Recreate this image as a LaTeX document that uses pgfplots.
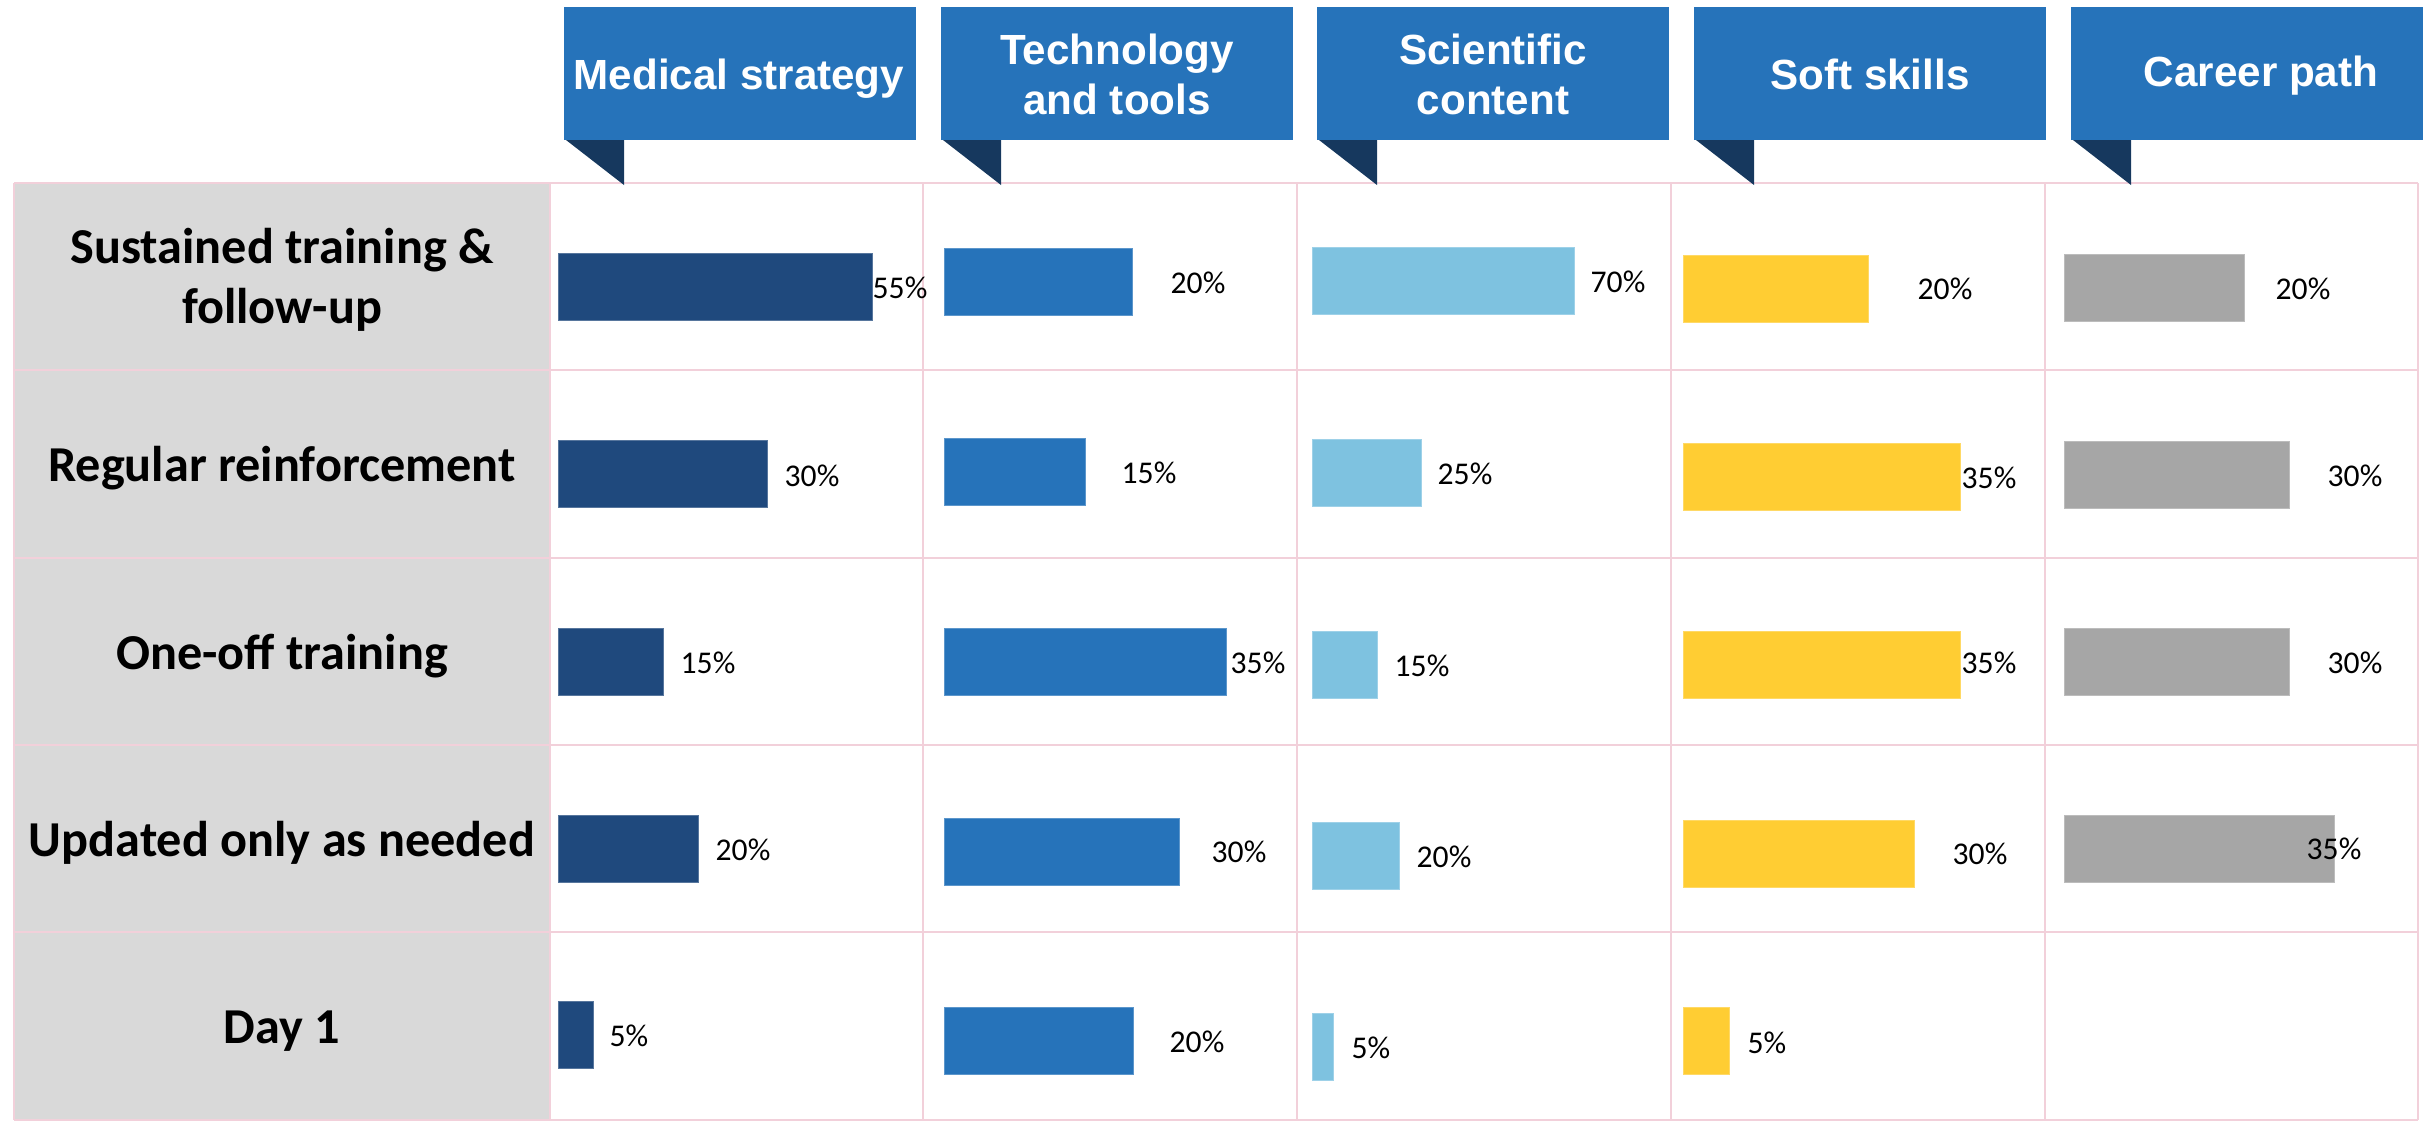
\documentclass[border=0pt]{standalone}
\usepackage{pgfplots}
\pgfplotsset{compat=1.18}
\usepackage{fontspec}
\setmainfont{Carlito}
\newfontfamily\headfont{Liberation Sans}
\definecolor{medblue}{RGB}{31,73,125}
\definecolor{techblue}{RGB}{38,115,186}
\definecolor{sciblue}{RGB}{126,194,224}
\definecolor{softyellow}{RGB}{255,205,51}
\definecolor{cargrey}{RGB}{166,166,166}
\definecolor{tridark}{RGB}{22,56,94}
\definecolor{gridpink}{RGB}{242,208,218}
\definecolor{labelbg}{RGB}{217,217,217}

\pgfplotsset{
  colaxis/.style={
    x=0.1mm, y=0.1mm, y dir=reverse,
    xmin=0, ymin=183, ymax=1120,
    hide axis, clip=false, anchor=south west,
  },
  barstyle/.style={xbar, bar width=67, fill=#1, draw=#1!75!white, line width=0.1mm},
  lblstyle/.style={draw=none, mark=none, nodes near coords,
    point meta=explicit symbolic,
    nodes near coords align={anchor=west},
    every node near coord/.append style={font=\fontsize{9}{10}\selectfont, inner sep=0pt, anchor=west, text=black}},
}

\begin{document}
\begin{tikzpicture}[x=0.1mm, y=-0.1mm]
\useasboundingbox (0,0) rectangle (2433,1124);

% row label background and grid
\fill[labelbg] (14,183) rectangle (550,1120);
\foreach \yy in {183,370,558,745,932,1120}
  \draw[gridpink, line width=0.25mm] (14,\yy) -- (2418,\yy);
\foreach \xx in {14,550,923,1297,1671,2045,2418}
  \draw[gridpink, line width=0.2mm] (\xx,183) -- (\xx,1120);

% headers
\foreach \bx in {564,941,1317,1694,2071}{
  \fill[techblue] (\bx,7) rectangle ++(352,133);
  \fill[tridark] (\bx+2,140) -- (\bx+60,140) -- (\bx+60,185) -- cycle;
}
\tikzset{hd/.style={font=\headfont\bfseries\fontsize{12}{14}\selectfont, text=white, anchor=base, inner sep=0pt}}
\node[hd] at (739,89) {Medical strategy};
\node[hd] at (1117,64) {Technology};
\node[hd] at (1117,114) {and tools};
\node[hd] at (1493,64) {Scientific};
\node[hd] at (1493,114) {content};
\node[hd] at (1870,89) {Soft skills};
\node[hd] at (2261,86) {Career path};

% row labels
\tikzset{rl/.style={font=\bfseries\fontsize{14.3}{17}\selectfont, anchor=base, inner sep=0pt}}
\node[rl] at (282,263) {Sustained training \&};
\node[rl] at (282,323) {follow-up};
\node[rl] at (282,481) {Regular reinforcement};
\node[rl] at (282,669) {One-off training};
\node[rl] at (282,856) {Updated only as needed};
\node[rl] at (282,1043) {Day 1};

% Medical strategy
\begin{axis}[colaxis, xmax=364, at={(55.9mm,-112mm)}]
\addplot[barstyle=medblue] coordinates {(313,287) (208,474) (104,662) (139,849) (35,1035)};
\addplot[lblstyle] coordinates {(313,288) [55\%] (225,476) [30\%] (121,663) [15\%] (156,850) [20\%] (50,1036) [5\%]};
\end{axis}

% Technology and tools
\begin{axis}[colaxis, xmax=352, at={(94.5mm,-112mm)}]
\addplot[barstyle=techblue] coordinates {(187,282) (140,472) (281,661.5) (234,851.5) (188,1040.5)};
\addplot[lblstyle] coordinates {(225,283) [20\%] (176,473) [15\%] (285,663) [35\%] (266,852) [30\%] (224,1042) [20\%]};
\end{axis}

% Scientific content
\begin{axis}[colaxis, xmax=358, at={(131.3mm,-112mm)}]
\addplot[barstyle=sciblue] coordinates {(262,281) (109,473) (65,664.5) (87,855.5) (21,1047)};
\addplot[lblstyle] coordinates {(277,282) [70\%] (124,474) [25\%] (81,666) [15\%] (103,857) [20\%] (38,1048) [5\%]};
\end{axis}

% Soft skills
\begin{axis}[colaxis, xmax=361, at={(168.4mm,-112mm)}]
\addplot[barstyle=softyellow] coordinates {(185,288.5) (277,476.5) (277,665) (231,853.5) (46,1041)};
\addplot[lblstyle] coordinates {(233,289) [20\%] (277,478) [35\%] (277,663) [35\%] (268,854) [30\%] (63,1043) [5\%]};
\end{axis}

% Career path
\begin{axis}[colaxis, xmax=353, at={(206.5mm,-112mm)}]
\addplot[barstyle=cargrey] coordinates {(180,287.5) (225,474.5) (225,662) (270,848.5)};
\addplot[lblstyle] coordinates {(210,289) [20\%] (262,476) [30\%] (262,663) [30\%] (241,849) [35\%]};
\end{axis}
\end{tikzpicture}
\end{document}
